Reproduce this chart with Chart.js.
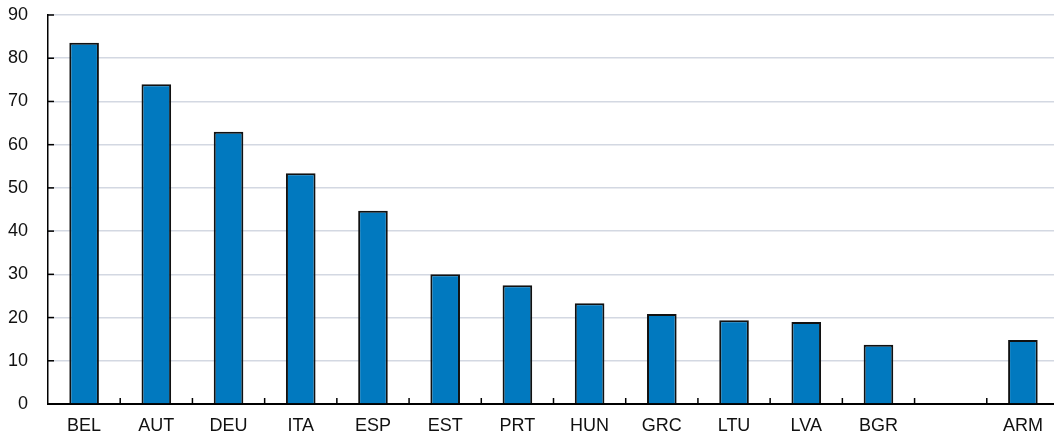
<!DOCTYPE html>
<html>
<head>
<meta charset="utf-8">
<script src="https://cdn.jsdelivr.net/npm/chart.js@4/dist/chart.umd.min.js"></script>
<style>
  html, body { margin: 0; padding: 0; background: #fff; overflow: hidden; }
  #wrap { width: 1059px; height: 437px; }
</style>
</head>
<body>
<div id="wrap"><canvas id="chart"></canvas></div>
<script>
// Categories and values (blank slot separates ARM)
const countries = ["BEL", "AUT", "DEU", "ITA", "ESP", "EST", "PRT", "HUN", "GRC", "LTU", "LVA", "BGR", "", "ARM"];
const values = [83.6, 74.0, 63.0, 53.4, 44.7, 30.0, 27.5, 23.3, 20.8, 19.4, 19.0, 13.7, null, 14.8];
const yTicks = [0, 10, 20, 30, 40, 50, 60, 70, 80, 90];

const barBlue = "#0179BF";
const gridColor = "#D3D8E2";
const fontFamily = "'Liberation Sans', Arial, sans-serif";

// Small tick marks pointing into the plot area
const innerTicks = {
    id: "innerTicks",
    afterDraw(chart) {
        const ctx = chart.ctx;
        const x = chart.scales.x;
        const y = chart.scales.y;
        ctx.save();
        ctx.strokeStyle = "#000";
        ctx.lineWidth = 1.5;
        yTicks.forEach(v => {
            const py = y.getPixelForValue(v);
            ctx.beginPath();
            ctx.moveTo(x.left, py);
            ctx.lineTo(x.left + 6, py);
            ctx.stroke();
        });
        for (let i = 1; i < countries.length; i++) {
            const px = (x.getPixelForValue(i - 1) + x.getPixelForValue(i)) / 2;
            ctx.beginPath();
            ctx.moveTo(px, y.bottom);
            ctx.lineTo(px, y.bottom - 6);
            ctx.stroke();
        }
        ctx.restore();
    }
};

new Chart(document.getElementById("chart"), {
    type: "bar",
    data: {
        labels: countries,
        datasets: [{
            data: values,
            backgroundColor: barBlue,
            borderColor: "#111",
            borderWidth: 2,
            categoryPercentage: 1,
            barPercentage: 0.41
        }]
    },
    options: {
        responsive: true,
        maintainAspectRatio: false,
        animation: false,
        layout: { padding: { top: 15, right: 0, bottom: 0, left: 0 } },
        plugins: { legend: { display: false }, tooltip: { enabled: false } },
        scales: {
            x: {
                grid: { display: false, drawTicks: false },
                border: { color: "#000", width: 2 },
                ticks: {
                    color: "#111",
                    padding: 11,
                    maxRotation: 0,
                    autoSkip: false,
                    font: { family: fontFamily, size: 18 }
                },
                afterFit: s => { s.height = 33; }
            },
            y: {
                min: 0,
                max: 90,
                grid: { color: gridColor, lineWidth: 1.6, tickLength: 20, tickColor: "rgba(0,0,0,0)" },
                border: { color: "#000", width: 1.5 },
                ticks: {
                    stepSize: 10,
                    color: "#111",
                    padding: 0,
                    font: { family: fontFamily, size: 18 }
                },
                afterFit: s => { s.width = 48; }
            }
        }
    },
    plugins: [innerTicks]
});
</script>
</body>
</html>
